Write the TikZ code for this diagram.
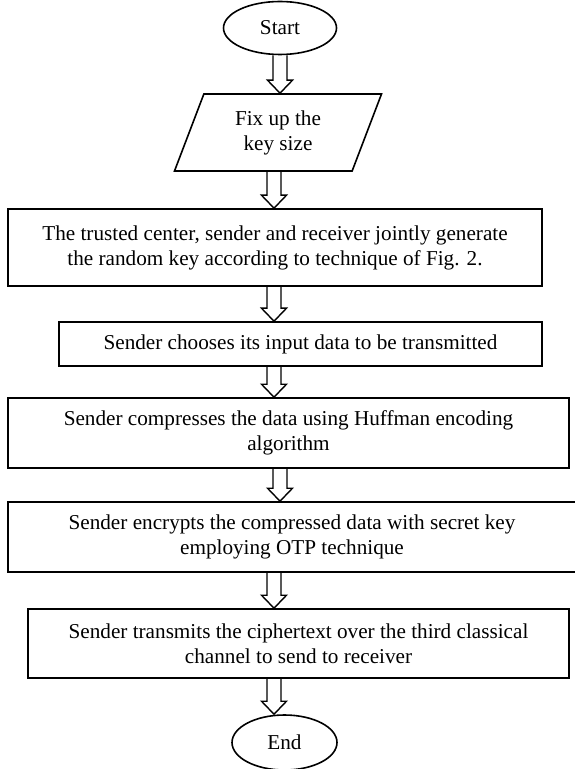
\documentclass[tikz,border=0pt]{standalone}
\usepackage{fontspec}
\setmainfont{Liberation Serif}
\usetikzlibrary{shapes.geometric,calc}

\begin{document}
\begin{tikzpicture}[x=0.5pt,y=-0.5pt,
  every node/.style={font=\fontsize{10.6}{12.5}\selectfont, align=center, line width=0.8pt},
  stepbox/.style={draw, rectangle, inner sep=0pt},
  term/.style={draw, ellipse, inner sep=0pt},
  hollow/.style={line width=0.7pt, to path={let \p1=(\tikztostart), \p2=(\tikztotarget) in
    (\x1-3.5pt,\y1) -- (\x1-3.5pt,\y2+6.5pt) -- (\x1-6.25pt,\y2+6.5pt) -- (\x1,\y2)
    -- (\x1+6.25pt,\y2+6.5pt) -- (\x1+3.5pt,\y2+6.5pt) -- (\x1+3.5pt,\y1)}}]
\useasboundingbox (0,0) rectangle (574,769);

\node[term, minimum width=56.5pt, minimum height=26.5pt] (start) at (280,28) {Start};
\node[draw, trapezium, trapezium left angle=63, trapezium right angle=117, trapezium stretches body,
  minimum width=103.5pt, minimum height=38.5pt] (keysize) at (278,132.5) {Fix up the\\key size};

\node[stepbox, minimum width=267pt, minimum height=38.5pt] (trust) at (275,247.5)
  {The trusted center, sender and receiver jointly generate\\the random key according to technique of Fig. 2.};
\node[stepbox, minimum width=241.5pt, minimum height=22pt] (input) at (300.5,344)
  {Sender chooses its input data to be transmitted};
\node[stepbox, minimum width=280.5pt, minimum height=35pt] (huff) at (288.5,433)
  {Sender compresses the data using Huffman encoding\\algorithm};
\node[stepbox, minimum width=284pt, minimum height=35pt] (otp) at (292,537)
  {Sender encrypts the compressed data with secret key\\employing OTP technique};
\node[stepbox, minimum width=270.5pt, minimum height=34.5pt] (send) at (298.5,643.5)
  {Sender transmits the ciphertext over the third classical\\channel to send to receiver};
\node[term, minimum width=52.5pt, minimum height=27.5pt] (end) at (284.5,742.5) {End};

\coordinate (axis) at (274,0);
\draw[hollow] (start.south) to (keysize.north);
\draw[hollow] (keysize.south -| axis) to (trust.north);
\draw[hollow] (trust.south -| axis) to (input.north);
\draw[hollow] (input.south -| axis) to (huff.north);
\draw[hollow] (huff.south -| start.south) to (otp.north);
\draw[hollow] (otp.south -| axis) to (send.north);
\draw[hollow] (send.south -| axis) to (end.north);
\end{tikzpicture}
\end{document}
